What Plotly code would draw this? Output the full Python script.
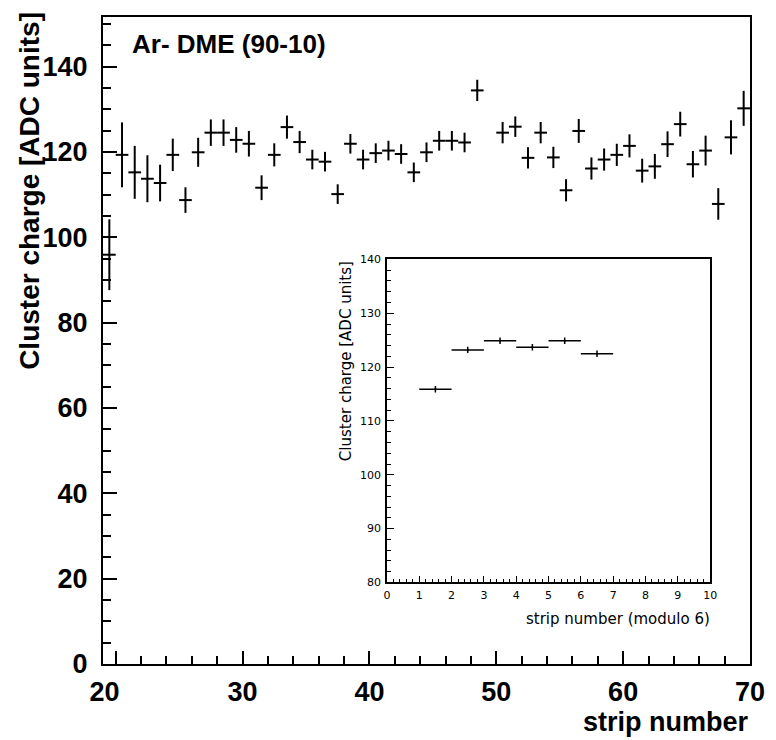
import plotly.graph_objects as go

# ---- main histogram data (bin centres, mean cluster charge, error) ----
strip = [19.5, 20.5, 21.5, 22.5, 23.5, 24.5, 25.5, 26.5, 27.5, 28.5,
         29.5, 30.5, 31.5, 32.5, 33.5, 34.5, 35.5, 36.5, 37.5, 38.5,
         39.5, 40.5, 41.5, 42.5, 43.5, 44.5, 45.5, 46.5, 47.5, 48.5,
         50.5, 51.5, 52.5, 53.5, 54.5, 55.5, 56.5, 57.5, 58.5, 59.5,
         60.5, 61.5, 62.5, 63.5, 64.5, 65.5, 66.5, 67.5, 68.5, 69.5]
charge = [95.9, 119.3, 115.2, 113.7, 112.7, 119.3, 108.7, 119.9, 124.5, 124.5,
          122.8, 121.9, 111.6, 119.3, 125.8, 122.3, 118.2, 117.7, 110.1, 121.9,
          118.2, 119.7, 120.3, 119.5, 115.2, 119.9, 122.6, 122.6, 122.2, 134.4,
          124.5, 125.9, 118.6, 124.5, 118.7, 111.0, 124.9, 116.1, 118.2, 119.3,
          121.4, 115.6, 116.6, 121.8, 126.5, 117.1, 120.3, 107.8, 123.4, 130.2]
charge_err = [8.3, 7.6, 6.2, 5.5, 4.3, 3.8, 3.0, 3.4, 3.1, 3.1,
              3.0, 3.0, 2.9, 2.7, 2.7, 2.6, 2.3, 2.3, 2.3, 2.3,
              2.3, 2.3, 2.3, 2.3, 2.3, 2.3, 2.3, 2.3, 2.3, 2.5,
              2.5, 2.4, 2.5, 2.5, 2.5, 2.6, 2.8, 2.6, 2.6, 2.6,
              2.7, 2.8, 2.9, 3.0, 2.9, 3.1, 3.5, 3.7, 4.0, 4.1]
bin_half = 0.5

x_tickvals = [20, 30, 40, 50, 60, 70]
x_ticktext = ["20\u00a0\u00a0\u00a0", "30", "40", "50", "60", "70"]

# ---- inset data (strip number modulo 6) ----
mod_strip = [1.5, 2.5, 3.5, 4.5, 5.5, 6.5]
mod_charge = [115.9, 123.2, 124.9, 123.7, 124.9, 122.5]
mod_err = [0.6, 0.6, 0.6, 0.6, 0.6, 0.6]

W, H = 776, 740
L, R, T, B = 103, 19, 11, 76
pw, ph = W - L - R, H - T - B


def px(x):
    return (x - L) / pw


def py(y):
    return (H - B - y) / ph


BOLD = "Liberation Sans"
THIN = "DejaVu Sans"

fig = go.Figure()
fig.add_trace(go.Scatter(
    x=strip, y=charge, mode="markers",
    marker=dict(size=2, color="black"),
    error_y=dict(type="data", array=charge_err, width=0, thickness=2, color="black"),
    error_x=dict(type="data", array=[bin_half] * len(strip), width=0, thickness=2, color="black"),
    showlegend=False, xaxis="x", yaxis="y"))

fig.add_trace(go.Scatter(
    x=mod_strip, y=mod_charge, mode="markers",
    marker=dict(size=2, color="black"),
    error_y=dict(type="data", array=mod_err, width=0, thickness=1.5, color="black"),
    error_x=dict(type="data", array=[bin_half] * len(mod_strip), width=0, thickness=1.5, color="black"),
    showlegend=False, xaxis="x2", yaxis="y2"))

in_x0, in_x1 = px(390), px(716.7)
in_y0, in_y1 = py(581.7), py(255.7)

fig.update_layout(
    width=W, height=H, autosize=False,
    margin=dict(l=L, r=R, t=T, b=B, pad=0),
    paper_bgcolor="white", plot_bgcolor="white",
    xaxis=dict(domain=[0, 1], range=[19, 70], tickmode="array",
               tickvals=x_tickvals, ticktext=x_ticktext,
               showgrid=False, zeroline=False, showline=True, linecolor="black",
               linewidth=2, mirror=True, ticks="inside", ticklen=13, tickwidth=1.5,
               tickcolor="black", ticklabelstandoff=3,
               tickfont=dict(family=BOLD, size=27, color="black", weight="bold"),
               minor=dict(dtick=2, tick0=0, ticks="inside", ticklen=8, tickwidth=1.5,
                          tickcolor="black", showgrid=False)),
    yaxis=dict(domain=[0, 1], range=[0, 151.6], dtick=20, tick0=0,
               showgrid=False, zeroline=False, showline=True, linecolor="black",
               linewidth=2, mirror=True, ticks="inside", ticklen=14, tickwidth=1.5,
               tickcolor="black", ticklabelstandoff=8,
               tickfont=dict(family=BOLD, size=27, color="black", weight="bold"),
               minor=dict(dtick=5, tick0=0, ticks="inside", ticklen=8, tickwidth=1.5,
                          tickcolor="black", showgrid=False)),
    xaxis2=dict(domain=[in_x0, in_x1], anchor="y2", range=[0, 10], dtick=1, tick0=0,
                showgrid=False, zeroline=False, showline=True, linecolor="black",
                linewidth=1.5, mirror=True, ticks="inside", ticklen=7, tickwidth=1,
                tickcolor="black", ticklabelstandoff=2,
                tickfont=dict(family=THIN, size=11, color="black"),
                minor=dict(dtick=0.2, tick0=0, ticks="inside", ticklen=4, tickwidth=1,
                           tickcolor="black", showgrid=False)),
    yaxis2=dict(domain=[in_y0, in_y1], anchor="x2", range=[80, 140], dtick=10, tick0=0,
                showgrid=False, zeroline=False, showline=True, linecolor="black",
                linewidth=1.5, mirror=True, ticks="inside", ticklen=7, tickwidth=1,
                tickcolor="black", ticklabelstandoff=2,
                tickfont=dict(family=THIN, size=11, color="black"),
                minor=dict(dtick=2, tick0=0, ticks="inside", ticklen=4, tickwidth=1,
                           tickcolor="black", showgrid=False)),
)

# inset white background
fig.add_shape(type="rect", xref="paper", yref="paper", x0=in_x0, x1=in_x1,
              y0=in_y0, y1=in_y1, fillcolor="white", line=dict(width=0), layer="below")

ann = [
    dict(text="Cluster charge [ADC units]", x=px(28), y=py(5), xanchor="center",
         yanchor="top", textangle=-90,
         font=dict(family=BOLD, size=28, color="black", weight="bold")),
    dict(text="strip number", x=px(757), y=py(739), xanchor="right", yanchor="bottom",
         font=dict(family=BOLD, size=27, color="black", weight="bold")),
    dict(text="Ar- DME (90-10)", x=px(131), y=py(38), xanchor="left", yanchor="middle",
         font=dict(family=BOLD, size=26, color="black", weight="bold")),
    dict(text="Cluster charge [ADC units]", x=px(348), y=py(256), xanchor="center",
         yanchor="top", textangle=-90,
         font=dict(family=THIN, size=15, color="black")),
    dict(text="strip number (modulo 6)", x=px(718), y=py(619), xanchor="right",
         yanchor="middle", font=dict(family=THIN, size=15, color="black")),
]
for a in ann:
    fig.add_annotation(xref="paper", yref="paper", showarrow=False, borderpad=0, **a)

fig.write_html("out.html")
